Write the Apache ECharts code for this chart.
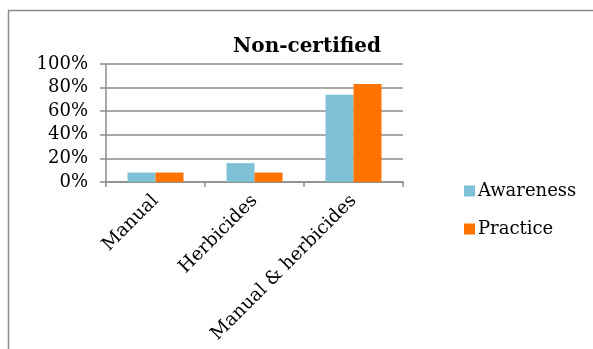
<!DOCTYPE html>
<html>
<head>
<meta charset="utf-8">
<script src="https://cdn.jsdelivr.net/npm/echarts@6/dist/echarts.min.js"></script>
<style>
  html, body { margin: 0; padding: 0; background: #fff; }
  #chart { width: 593px; height: 349px; }
</style>
</head>
<body>
<div id="chart"></div>
<script>
// 数据
var categories = ["Manual", "Herbicides", "Manual & herbicides"];
var awareness = [8, 16, 74];
var practice = [8, 8, 83];
var yTicks = [0, 20, 40, 60, 80, 100];

var chart = echarts.init(document.getElementById("chart"));
var serif = "DejaVu Serif";

chart.setOption({
  animation: false,
  color: ["#7EC0D5", "#FF7300"],
  title: {
    text: "Non-certified",
    left: 302,
    textAlign: "center",
    top: 32,
    textStyle: { fontFamily: serif, fontWeight: "bold", fontSize: 20, color: "#000" }
  },
  legend: {
    orient: "vertical",
    left: 459,
    top: 177,
    itemWidth: 11,
    itemHeight: 11,
    itemGap: 20,
    icon: "rect",
    textStyle: { fontFamily: serif, fontSize: 18, color: "#000", padding: [0, 0, 0, -2] },
    data: ["Awareness", "Practice"]
  },
  grid: { left: 106, top: 64, right: 190, bottom: 167 },
  xAxis: {
    type: "category",
    data: categories,
    axisLine: { lineStyle: { color: "#8c8c8c", width: 1.5 } },
    axisTick: { show: true, length: 5, lineStyle: { color: "#8c8c8c", width: 1.5 } },
    axisLabel: {
      interval: 0,
      rotate: 45,
      margin: 16,
      fontFamily: serif,
      fontSize: 18.5,
      color: "#000"
    }
  },
  yAxis: {
    type: "value",
    min: yTicks[0],
    max: yTicks[yTicks.length - 1],
    interval: 20,
    axisLine: { show: true, lineStyle: { color: "#8c8c8c", width: 1.5 } },
    axisTick: { show: true, length: 6, lineStyle: { color: "#8c8c8c", width: 1.5 } },
    axisLabel: {
      formatter: "{value}%",
      margin: 18,
      fontFamily: serif,
      fontSize: 18,
      color: "#000"
    },
    splitLine: { lineStyle: { color: "#8c8c8c", width: 1.5 } }
  },
  series: [
    { name: "Awareness", type: "bar", data: awareness, barWidth: 28, barGap: "0%" },
    { name: "Practice", type: "bar", data: practice, barWidth: 28 }
  ],
  graphic: [
    {
      type: "rect",
      shape: { x: 8.5, y: 10.5, width: 700, height: 500 },
      style: { fill: "none", stroke: "#8c8c8c", lineWidth: 1.5 },
      silent: true
    }
  ]
});
</script>
</body>
</html>
